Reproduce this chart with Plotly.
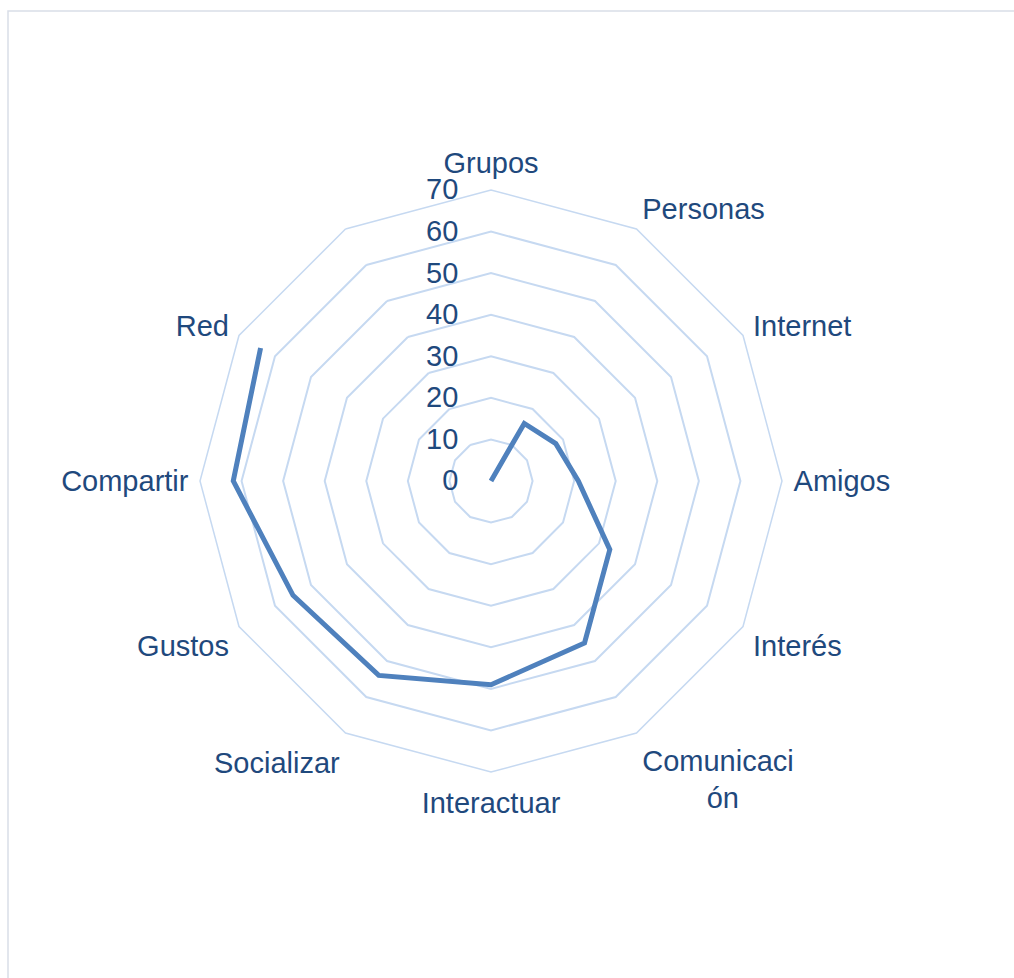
import plotly.graph_objects as go

NB = "&nbsp;"
categories = ["Grupos", "Personas", "Internet", "Amigos", "Interés",
              "Comunicaci<br>" + NB * 8 + "ón", "Interactuar", "Socializar", "Gustos",
              "Compartir", "Red", " "]
values = [0, 16, 18, 21, 33, 45, 49, 54, 55, 62, 64, None]
tick_vals = [0, 10, 20, 30, 40, 50, 60, 70]
tick_text = ["0", "10", "20", "30", "40", "50", "60", "70"]

TEXT = "#1f497d"
GRID = "#c6d9f1"
LINE = "#4f81bd"
W, H = 1014, 978
cx, cy, R = 491, 481, 291
FS = 29

fig = go.Figure()
fig.add_trace(go.Scatterpolar(
    r=values, theta=categories, mode="lines",
    line=dict(color=LINE, width=5), connectgaps=False,
    hoverinfo="skip", showlegend=False,
))

fig.update_layout(
    width=W, height=H,
    margin=dict(l=0, r=0, t=0, b=0),
    paper_bgcolor="white",
    font=dict(family="Liberation Sans, Arial, sans-serif", size=FS, color=TEXT),
    polar=dict(
        bgcolor="white",
        gridshape="linear",
        domain=dict(x=[(cx - R) / W, (cx + R) / W],
                    y=[1 - (cy + R) / H, 1 - (cy - R) / H]),
        radialaxis=dict(
            range=[0, 70], tickvals=tick_vals, ticktext=tick_text,
            angle=90, tickangle=90, side="counterclockwise",
            showline=False, showgrid=True, gridcolor=GRID, gridwidth=1.5,
            ticks="outside", ticklen=22, tickcolor="rgba(0,0,0,0)",
            tickfont=dict(size=FS, color=TEXT),
        ),
        angularaxis=dict(
            rotation=90, direction="clockwise",
            showgrid=False, showline=True, linecolor=GRID, linewidth=1.5,
            ticks="outside", ticklen=5, tickcolor="rgba(0,0,0,0)",
            tickfont=dict(size=FS, color=TEXT),
        ),
    ),
    shapes=[dict(type="rect", xref="paper", yref="paper",
                 x0=8 / W, x1=1.05, y0=-0.05, y1=1 - 11 / H,
                 line=dict(color="#d9dee8", width=1.5), fillcolor="rgba(0,0,0,0)",
                 layer="below")],
)

fig.write_html("out.html")
